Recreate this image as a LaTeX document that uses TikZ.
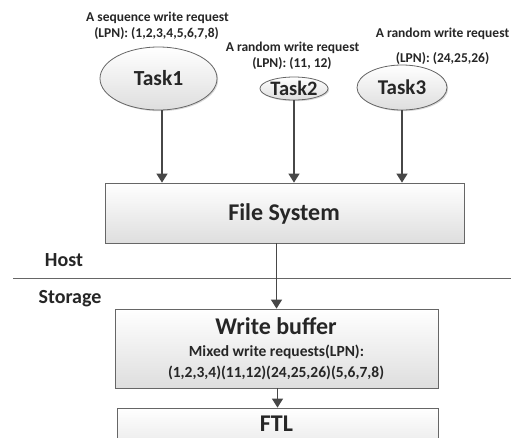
\documentclass[tikz,border=0pt]{standalone}
\usepackage{fontspec}
\setmainfont{Carlito}
\usetikzlibrary{shapes.geometric,arrows.meta,shadows}
\begin{document}
\begin{tikzpicture}[x=1pt,y=-1pt,
  lbl/.style={font=\bfseries\fontsize{13.5}{16}\selectfont, inner sep=0pt, text=black!85},
  big/.style={font=\bfseries\fontsize{#1}{#1}\selectfont, inner sep=0pt, text=black!85},
  shade/.style={top color=white, bottom color=black!13, draw=black!60, line width=0.8pt,
     drop shadow={shadow xshift=1.2pt, shadow yshift=-1.2pt, opacity=0.25, fill=black!60}},
  task/.style={ellipse, shade, inner sep=0pt},
  box/.style={rectangle, shade, inner sep=0pt},
  arr/.style={draw=black!72, line width=1.3pt, -{Triangle[length=9pt,width=11pt]}},
]
\clip (0,0) rectangle (513,437);
\fill[white] (0,0) rectangle (513,437);

% tasks
\node[task, minimum width=117pt, minimum height=63pt] (t1) at (158.5,78.5) {};
\node[task, minimum width=68pt, minimum height=23pt] (t2) at (294,88.5) {};
\node[task, minimum width=90pt, minimum height=45pt] (t3) at (402,87.5) {};
\node[big=21.5] (t1txt) at (t1.center) {Task1};
\node[big=20.5] (t2txt) at (t2.center) {Task2};
\node[big=21] (t3txt) at (t3.center) {Task3};

% labels
\node[lbl] (l1a) at (157.5,18) {A sequence write request};
\node[lbl] (l1b) at (156.5,34) {(LPN): (1,2,3,4,5,6,7,8)};
\node[lbl] (l2a) at (292.5,48) {A random write request};
\node[lbl] (l2b) at (292,64) {(LPN): (11, 12)};
\node[lbl] (l3a) at (442.5,34) {A random write request};
\node[lbl] (l3b) at (442.5,59) {(LPN): (24,25,26)};

% file system
\node[box, minimum width=359pt, minimum height=60pt] (fs) at (284.5,213) {};
\node[big=24] (fstxt) at (284,213.5) {File System};

% host / storage
\coordinate (hl) at (13,278);
\coordinate (hr) at (511,278);
\draw[black!60, line width=0.8pt] (hl) -- (hr);
\node[big=20] (host) at (64,260.5) {Host};
\node[big=20] (stor) at (70,298.5) {Storage};

% write buffer
\node[box, minimum width=323pt, minimum height=79pt] (wb) at (276.5,348.5) {};
\node[big=24] (wbt) at (276,326.5) {Write buffer};
\node[big=15.5] (wbm) at (276.5,352) {Mixed write requests(LPN):};
\node[big=15.5] (wbl) at (276,373) {(1,2,3,4)(11,12)(24,25,26)(5,6,7,8)};

% FTL
\node[box, minimum width=321pt, minimum height=60pt] (ftl) at (277.5,438) {};
\node[big=24] (ftlt) at (276.5,423.5) {FTL};

% arrows
\draw[arr] ([xshift=3.5pt]t1.south) -- ([xshift=3.5pt]t1.south |- fs.north);
\draw[arr] (t2.south) -- (t2.south |- fs.north);
\draw[arr] (t3.south) -- (t3.south |- fs.north);
\draw[arr] (wb.north |- fs.south) -- (wb.north);
\draw[arr] ([xshift=1pt]wb.south) -- ([xshift=1pt]wb.south |- ftl.north);
\end{tikzpicture}
\end{document}
